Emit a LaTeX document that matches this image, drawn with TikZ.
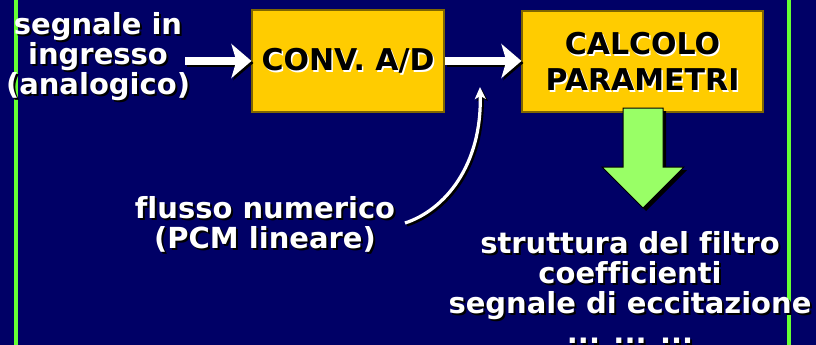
\documentclass[tikz,border=0pt]{standalone}
\usepackage{fontspec}
\setmainfont{DejaVu Sans}[Ligatures=NoCommon]
\usetikzlibrary{arrows.meta}
\definecolor{bg}{HTML}{000066}
\definecolor{lgreen}{HTML}{66FF33}
\definecolor{boxy}{HTML}{FFCC00}
\definecolor{boxedge}{HTML}{7F6600}
\definecolor{agreen}{HTML}{99FF66}
\newcommand\shw[1]{\makebox[0pt][l]{\kern2pt\raisebox{-2pt}[0pt][0pt]{\color{black}#1}}#1}
\newcommand\shb[1]{\makebox[0pt][l]{\kern1.5pt\raisebox{-1.5pt}[0pt][0pt]{\color{white}#1}}#1}
\begin{document}
\begin{tikzpicture}[x=1pt,y=-1pt,
  lbl/.style={font=\fontsize{29}{30}\selectfont\bfseries, text=white, align=center, inner sep=0pt},
  blk/.style={fill=boxy, draw=boxedge, line width=1.2pt, inner sep=0pt,
    font=\fontsize{30}{36}\selectfont\bfseries, text=black, align=center},
  fat/.style={line width=7.5pt, -{Stealth[length=20pt,width=34pt,inset=5pt]}},
  thin/.style={line width=3.2pt, -{Stealth[length=12pt,width=11pt,inset=3pt]}},
  gline/.style={draw=lgreen, line width=4pt}
]
\useasboundingbox (0,0) rectangle (816,345);
\fill[bg] (0,0) rectangle (816,345);
\begin{scope}
\clip (0,0) rectangle (816,345);
% green side lines
\draw[gline] (16,-5) -- (16,350);
\draw[gline] (789,-5) -- (789,350);

% boxes
\node[blk, minimum width=192pt, minimum height=102pt] (conv) at (348,61) {\shb{CONV. A/D}};
\node[blk, minimum width=241pt, minimum height=101pt] (calc) at (642.5,61.5) {\shb{CALCOLO}\\\shb{PARAMETRI}};

% labels
\node[lbl] (in) at (98,57) {\shw{segnale in}\\\shw{ingresso}\\\shw{(analogico)}};
\node[lbl] (flux) at (265,224) {\shw{flusso numerico}\\\shw{(PCM lineare)}};
\node[lbl, anchor=north] (out) at (630,231) {\shw{struttura del filtro}\\\shw{coefficienti}\\\shw{segnale di eccitazione}\\\shw{... ... ...}};

% connector coordinates
\coordinate (a1s) at (185,61);
\coordinate (cs) at (405,223);
\coordinate (ce) at (480,87);

% white arrows with shadows
\draw[fat, black] ([shift={(2,2)}]a1s) -- ([shift={(2,2)}]conv.west);
\draw[fat, white] (a1s) -- (conv.west);
\draw[fat, black] ([shift={(2,2)}]conv.east) -- ([shift={(2,2)}]calc.west |- conv.east);
\draw[fat, white] (conv.east) -- (calc.west |- conv.east);
\draw[thin, black] ([shift={(2,2)}]cs) .. controls ([shift={(2,2)}]445,210) and ([shift={(2,2)}]482,165) .. ([shift={(2,2)}]ce);
\draw[thin, white] (cs) .. controls (445,210) and (482,165) .. (ce);

% green down arrow
\fill[black] (626,111) -- (666,111) -- (666,170) -- (687,170) -- (646,211) -- (605,170) -- (626,170) -- cycle;
\draw[fill=agreen, draw=black, line width=1pt] (623,108) -- (663,108) -- (663,167) -- (684,167) -- (643,208) -- (602,167) -- (623,167) -- cycle;
\end{scope}
\end{tikzpicture}
\end{document}
